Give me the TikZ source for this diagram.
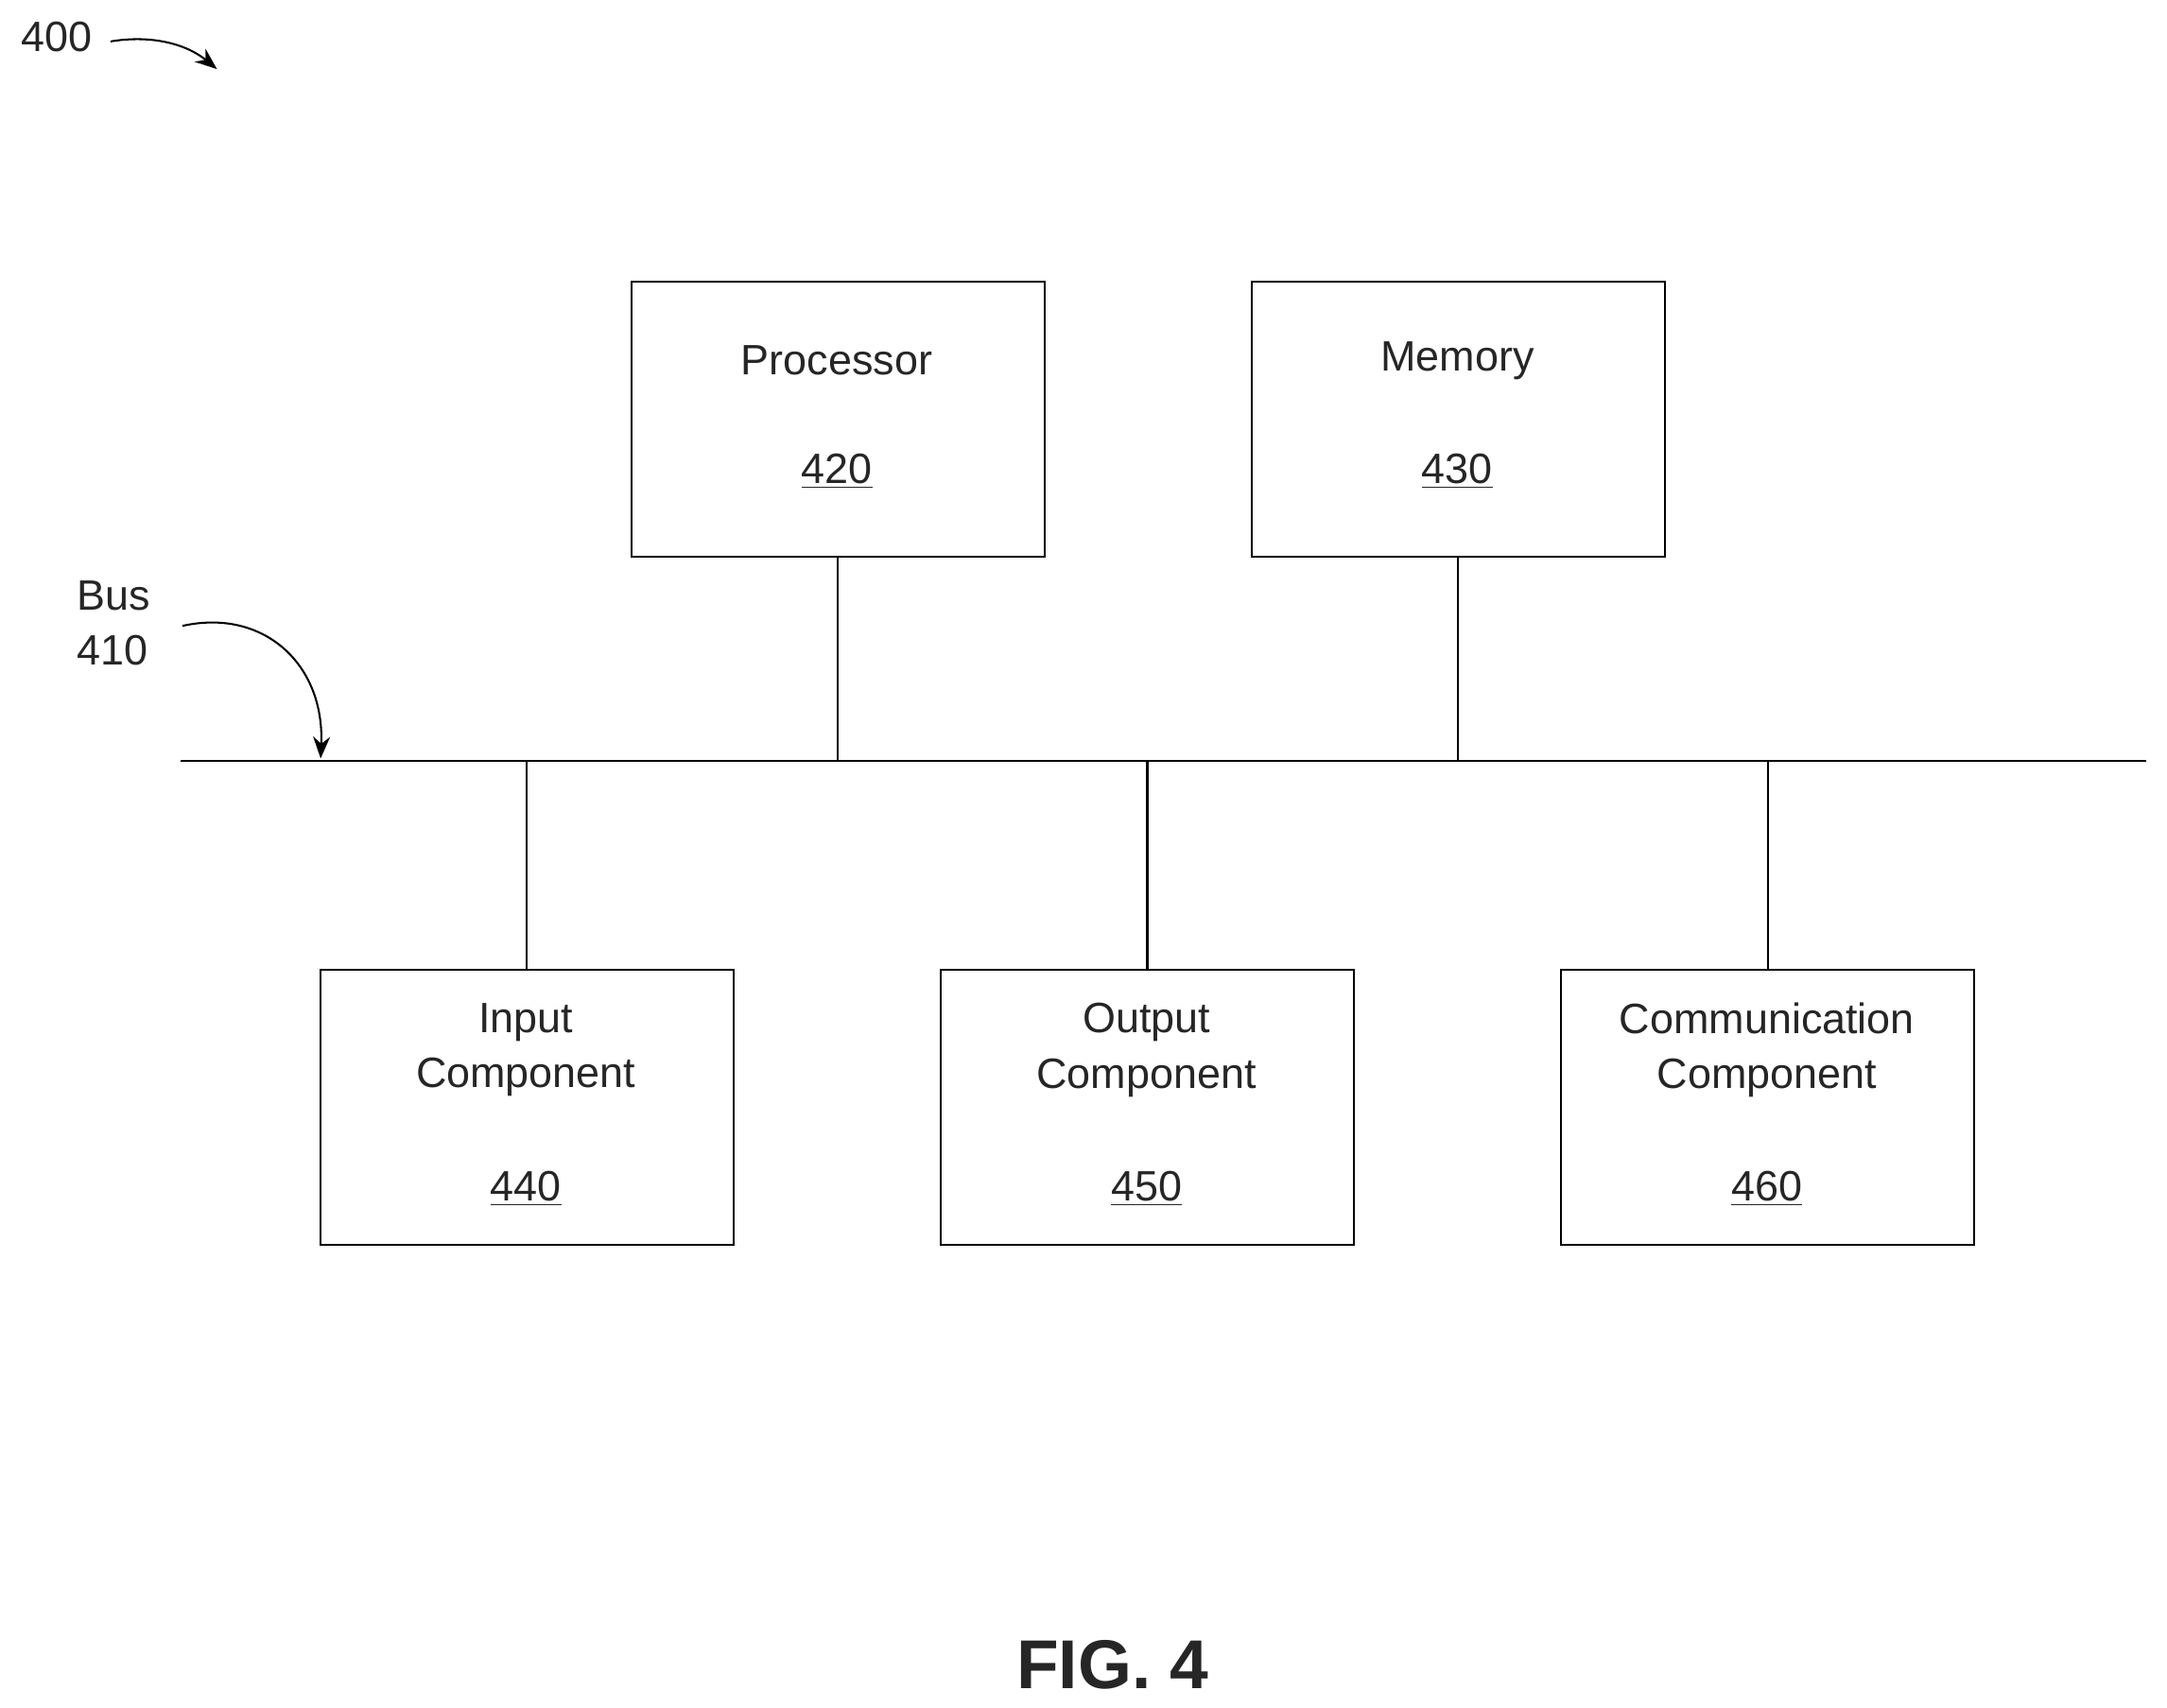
\documentclass[tikz,border=0pt]{standalone}
\usepackage{fontspec}
\setmainfont{Liberation Sans}
\usetikzlibrary{arrows.meta}
\begin{document}
\begin{tikzpicture}[x=0.02cm,y=-0.02cm,
  box/.style={draw,line width=0.8pt,minimum width=5.98cm,minimum height=3.98cm,anchor=north west},
  lbl/.style={font=\fontsize{17.5}{22.7}\selectfont,color=black!85},
  ln/.style={line width=0.8pt},
  arr/.style={line width=0.8pt,-{Stealth[length=9pt,width=7pt]}}]
\useasboundingbox (0,0) rectangle (1568,1236);
\node[box] (p) at (456,203) {};
\node[box] (m) at (905,203) {};
\node[box] (i) at (231,701) {};
\node[box] (o) at (680,701) {};
\node[box] (c) at (1129,701) {};
\node[lbl] at (605.5,261) {Processor};
\node[lbl] at (605.5,341) {\underline{420}};
\node[lbl] at (1054.5,261) {Memory};
\node[lbl] at (1054.5,341) {\underline{430}};
\node[lbl,align=center] at (380.5,760) {Input\\Component};
\node[lbl] at (380.5,860) {\underline{440}};
\node[lbl,align=center] at (829.5,760) {Output\\Component};
\node[lbl] at (829.5,860) {\underline{450}};
\node[lbl,align=center] at (1278.5,760) {Communication\\Component};
\node[lbl] at (1278.5,860) {\underline{460}};
\coordinate (bl) at (131,551);
\coordinate (br) at (1553,551);
\draw[ln] (bl) -- (br);
\draw[ln] (p.south) -- (p.south |- bl);
\draw[ln] (m.south) -- (m.south |- bl);
\draw[ln] (i.north) -- (i.north |- bl);
\draw[ln] (o.north) -- (o.north |- bl);
\draw[ln] (c.north) -- (c.north |- bl);
\node[lbl] (n400) at (41,27) {400};
\coordinate (a400) at (157,50);
\draw[arr] (80,30) .. controls (110,25) and (135,32) .. (a400);
\node[lbl,align=left] (bus) at (82,451) {Bus\\410};
\coordinate (abus) at (232,549);
\draw[arr] (132,453) .. controls (190,440) and (235,480) .. (abus);
\node[font=\bfseries\fontsize{28.5}{34}\selectfont,color=black!85] (fig) at (805,1205) {FIG. 4};
\end{tikzpicture}
\end{document}
